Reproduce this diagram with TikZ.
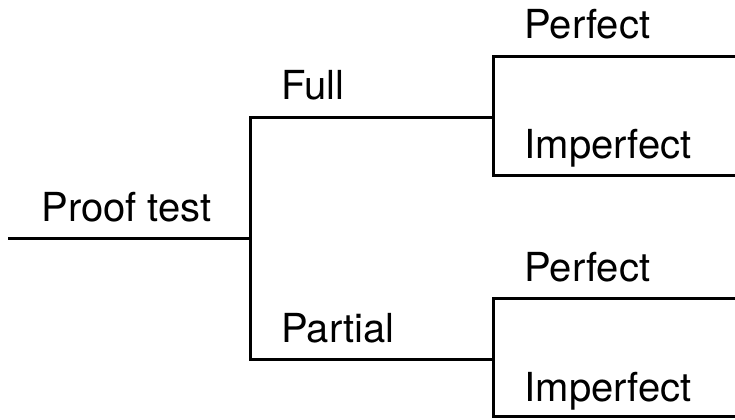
\documentclass[tikz,border=0pt]{standalone}
\usepackage{fontspec}
\setmainfont{TeX Gyre Heros}
\begin{document}
\begin{tikzpicture}[x=0.5pt,y=-0.5pt,
  branch/.style={line width=1.5pt,line join=miter,line cap=butt},
  lbl/.style={anchor=base west,inner sep=0pt,font=\fontsize{20}{24}\selectfont}]
\useasboundingbox (0,0) rectangle (735,419);
% junction points of the tree
\coordinate (start) at (8,238);
\coordinate (root) at (250,238);
\coordinate (full) at (250,117);
\coordinate (partial) at (250,359);
\coordinate (fullEnd) at (493,117);
\coordinate (partialEnd) at (493,359);
\coordinate (fa) at (493,56);
\coordinate (fb) at (493,175);
\coordinate (faEnd) at (735,56);
\coordinate (fbEnd) at (735,175);
\coordinate (pa) at (493,298);
\coordinate (pb) at (493,416);
\coordinate (paEnd) at (735,298);
\coordinate (pbEnd) at (735,416);
% branches
\draw[branch] (start) -- (root);
\draw[branch] (fullEnd) -- (full) -- (partial) -- (partialEnd);
\draw[branch] (faEnd) -- (fa) -- (fb) -- (fbEnd);
\draw[branch] (paEnd) -- (pa) -- (pb) -- (pbEnd);
% labels
\node[lbl] (tProof) at (41,221) {Proof test};
\node[lbl] (tFull) at (281,99.5) {Full};
\node[lbl] (tPartial) at (281,342.5) {Partial};
\node[lbl] (tPerf1) at (524,38.5) {Perfect};
\node[lbl] (tImp1) at (524,158.5) {Imperfect};
\node[lbl] (tPerf2) at (524,281.5) {Perfect};
\node[lbl] (tImp2) at (524,401.5) {Imperfect};
\end{tikzpicture}
\end{document}
